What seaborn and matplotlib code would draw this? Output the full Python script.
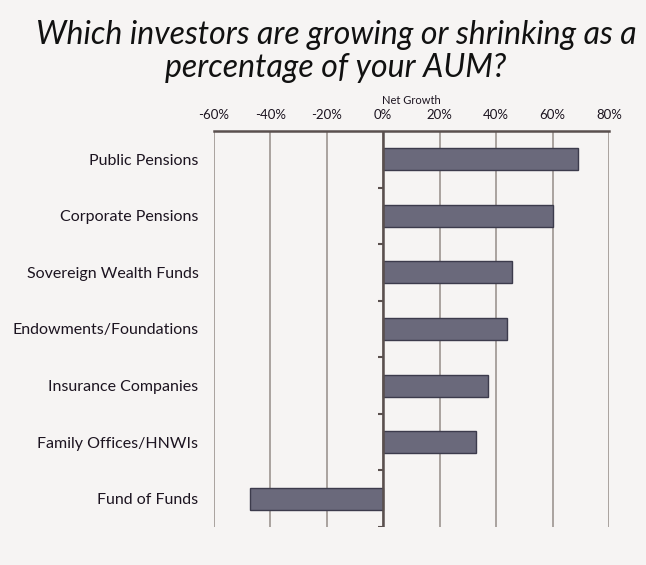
import matplotlib
matplotlib.use("Agg")
import matplotlib.pyplot as plt
import seaborn as sns
import pandas as pd
import numpy as np

categories = ["Public Pensions", "Corporate Pensions", "Sovereign Wealth Funds",
              "Endowments/Foundations", "Insurance Companies", "Family Offices/HNWIs",
              "Fund of Funds"]
net_growth = [69, 60, 45.5, 44, 37, 33, -47]
x_ticks = [-60, -40, -20, 0, 20, 40, 60, 80]
x_tick_labels = ["-60%", "-40%", "-20%", "0%", "20%", "40%", "60%", "80%"]

df = pd.DataFrame({"Investor": categories, "Net Growth": net_growth})

sns.set_theme(style="white")
plt.rcParams["font.family"] = ["Lato", "DejaVu Sans"]

bg = "#f6f4f3"
txt = "#1c1420"
fig = plt.figure(figsize=(6.46, 5.65), dpi=100, facecolor=bg)
ax = fig.add_axes([0.3308, 0.0673, 0.6119, 0.7008])
ax.set_facecolor(bg)

ax.set_xlim(-60, 80)
ax.set_ylim(len(categories) - 0.5, -0.5)

for xv in x_ticks:
    ax.axvline(xv, color="#a39c98", lw=1.3, zorder=1)

sns.barplot(data=df, x="Net Growth", y="Investor", orient="h", ax=ax,
            color="#6a697b", edgecolor="#3c3b4c", linewidth=1.0,
            width=0.39, saturation=1, zorder=3)

ax.set_xlim(-60, 80)
ax.set_ylim(len(categories) - 0.5, -0.5)

# zero axis with small boundary ticks
ax.axvline(0, color="#5a504e", lw=1.8, zorder=4)
bounds = np.arange(len(categories)) + 0.5
ax.hlines(bounds, -1.7, 0, color="#5a504e", lw=1.5, zorder=4)

for s in ["left", "right", "bottom"]:
    ax.spines[s].set_visible(False)
ax.spines["top"].set_color("#5a504e")
ax.spines["top"].set_linewidth(1.8)

ax.xaxis.tick_top()
ax.xaxis.set_label_position("top")
ax.set_xticks(x_ticks)
ax.set_xticklabels(x_tick_labels, fontsize=9.5, color=txt)
ax.tick_params(axis="x", length=0, pad=7)
ax.set_xlabel("Net Growth", fontsize=8, color=txt, labelpad=4)
ax.set_ylabel("")
ax.tick_params(axis="y", length=0, pad=11, labelsize=11.5, labelcolor=txt)
ax.grid(False)

fig.text(0.52, 0.909, "Which investors are growing or shrinking as a\npercentage of your AUM?",
         ha="center", va="center", fontsize=23, style="italic", color="#111111",
         linespacing=1.15)

fig.savefig("out.png", dpi=100, facecolor=bg)
